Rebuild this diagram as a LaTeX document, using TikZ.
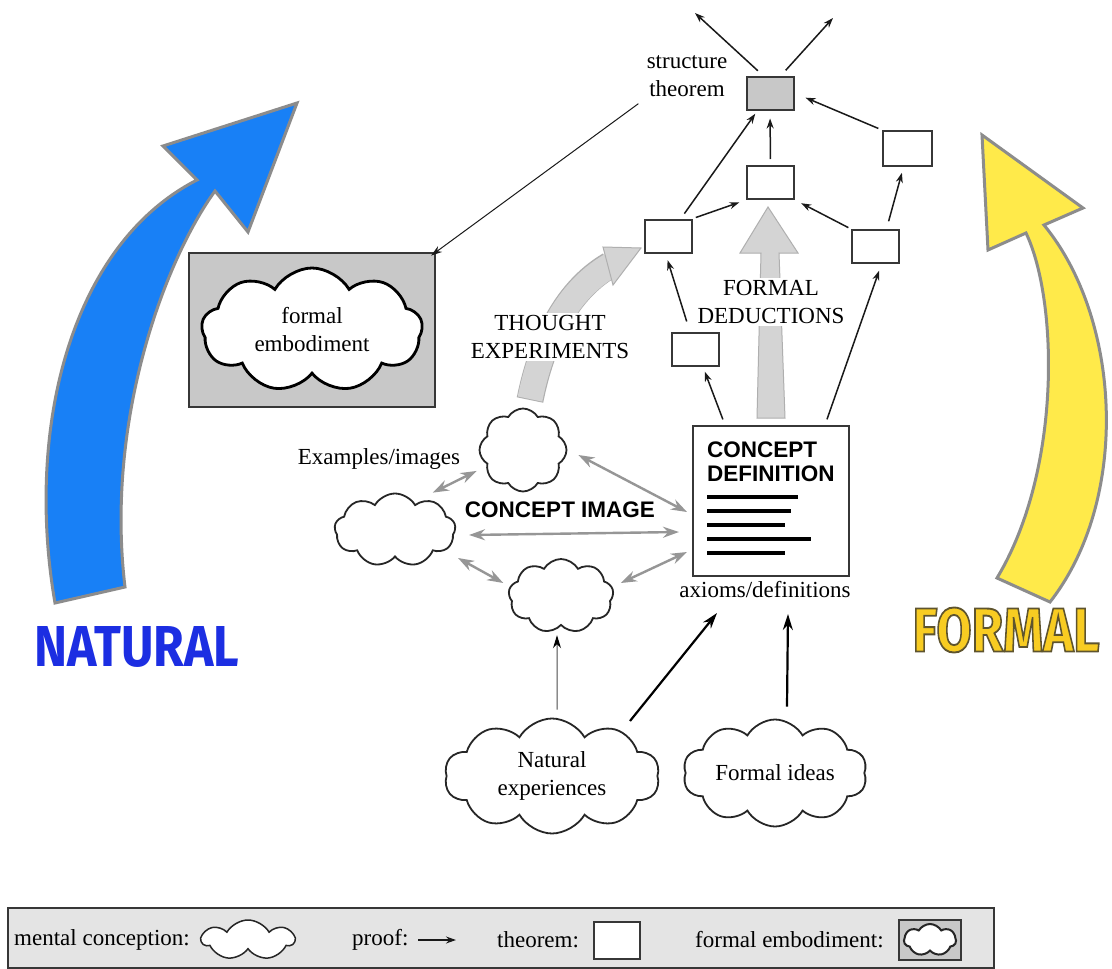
\documentclass[tikz,border=0pt]{standalone}
\usepackage{fontspec}
\setmainfont{Liberation Serif}
\setsansfont{Liberation Sans}
\newfontfamily\labelfont{Fira Sans}
\usetikzlibrary{arrows.meta,shapes.symbols,calc}
\definecolor{natblue}{RGB}{24,128,246}
\definecolor{natlabel}{RGB}{28,46,226}
\definecolor{formyellow}{RGB}{255,234,74}
\definecolor{formlabel}{RGB}{248,204,34}
\definecolor{bigrim}{RGB}{140,140,140}
\definecolor{thinkfill}{RGB}{212,212,212}
\definecolor{thinkrim}{RGB}{175,175,175}
\definecolor{dblgrey}{RGB}{150,150,150}
\definecolor{embfill}{RGB}{200,200,200}
\definecolor{legfill}{RGB}{228,228,228}
\definecolor{boxedge}{RGB}{55,55,55}
\begin{document}
\begin{tikzpicture}[x=1pt,y=-1pt,
  every node/.style={font=\fontsize{23}{28}\selectfont, align=center},
  thm/.style={draw=boxedge, line width=2pt, fill=white, minimum width=47pt, minimum height=33pt, inner sep=0pt},
  mcloud/.style={cloud, cloud puffs=9, cloud puff arc=120, cloud ignores aspect, draw=black!85, line width=1.8pt, fill=white, inner sep=0pt},
  proof/.style={draw=black!90, line width=1.5pt, -{Stealth[length=10pt,width=7pt]}},
  thickproof/.style={draw=black, line width=2.2pt, -{Stealth[length=16pt,width=10pt]}},
  thinproof/.style={draw=black!70, line width=1pt, -{Stealth[length=13pt,width=8pt,color=black]}},
  dbl/.style={draw=dblgrey, line width=2.4pt, {Stealth[length=16pt,width=11pt]}-{Stealth[length=16pt,width=11pt]}},
  bigshape/.style={fill=thinkfill, draw=thinkrim, line width=1pt},
  sflab/.style={font=\sffamily\bfseries\fontsize{22.5}{24}\selectfont}
]
\useasboundingbox (0,0) rectangle (1112,969);
\fill[white] (0,0) rectangle (1112,969);

% ---- big NATURAL arrow
\draw[fill=natblue, draw=bigrim, line width=3pt, line join=miter]
  (55,603) .. controls (25,430) and (70,245) .. (197,180) -- (163,146) -- (297,103) -- (248,232) -- (215,191)
  .. controls (165,260) and (105,420) .. (125,587) -- cycle;
\node[text=natlabel, inner sep=0pt] (natlab) at (137,647) {\resizebox{205pt}{40pt}{\labelfont\bfseries NATURAL}};

% ---- big FORMAL arrow
\draw[fill=formyellow, draw=bigrim, line width=3pt, line join=miter]
  (997,578) -- (1050,602) .. controls (1130,500) and (1122,320) .. (1044,225) -- (1083,208) -- (982,135) -- (988,250) -- (1026,233)
  .. controls (1058,300) and (1062,470) .. (997,578) -- cycle;
\node[text=formlabel, inner sep=0pt] (formlab) at (1006,630) {\resizebox{187pt}{44pt}{\special{pdf:literal direct 2 Tr 0.7 w 0.37 0.33 0.18 RG}\labelfont\bfseries FORMAL\special{pdf:literal direct 0 Tr}}};

% ---- thought experiments arrow
\draw[line width=27pt, draw=thinkrim] (530,400) .. controls (540,350) and (562,293) .. (610,265);
\draw[line width=25pt, draw=thinkfill] (530,399) .. controls (540,350) and (562,293) .. (611,265);
\draw[bigshape] (603,247) -- (641,248) -- (613,285) -- cycle;
% ---- formal deductions arrow
\draw[bigshape] (757,418) -- (785,418) -- (779,253) -- (798,253) -- (768,207) -- (740,253) -- (761,253) -- cycle;

\node[fill=white, inner sep=2pt] (telab) at (550,337) {THOUGHT\\EXPERIMENTS};
\node[fill=white, inner sep=2pt] (fdlab) at (771,302) {FORMAL\\DEDUCTIONS};

% ---- theorems
\node[thm, fill=embfill] (st) at (770,93) {};
\node[thm] (tm) at (770.5,182.5) {};
\node[thm, minimum width=49pt, minimum height=35pt] (trt) at (907.5,148.5) {};
\node[thm] (tl) at (668.5,236) {};
\node[thm] (tr) at (875.5,246.5) {};
\node[thm] (ts) at (695,349.5) {};
\node (stlab) at (687,76) {structure\\theorem};
\coordinate (ul) at (695,13);
\coordinate (ur) at (833,18);

% ---- formal embodiment
\node[draw=boxedge, line width=2pt, fill=embfill, minimum width=246pt, minimum height=154pt] (fe) at (312,330) {};
\node[mcloud, cloud puffs=9, line width=2.8pt, draw=black, minimum width=221pt, minimum height=124pt] (fec) at (312,330) {formal\\embodiment};

% ---- concept definition
\node[draw=boxedge, line width=2pt, fill=white, minimum width=156pt, minimum height=150pt] (cd) at (771,501) {};
\node[sflab, anchor=north west, align=left, inner sep=0pt] (cdt) at (707,442) {CONCEPT\\DEFINITION};
\foreach \y/\xe in {497/798,511/791,525/785,539/811,553/785}
  \draw[line width=3.4pt] (707,\y) -- (\xe,\y);
\node (axlab) at (765,590) {axioms/definitions};

% ---- concept image clouds
\node[mcloud, cloud puffs=8, minimum width=87pt, minimum height=83pt] (ca) at (523,450) {};
\node[mcloud, cloud puffs=9, minimum width=121pt, minimum height=73pt] (cb) at (395,530) {};
\node[mcloud, cloud puffs=9, minimum width=105pt, minimum height=74pt] (cc) at (561,596) {};
\node (exlab) at (379,459) {Examples/images};
\node[sflab] (cilab) at (560,510) {CONCEPT IMAGE};

% ---- bottom clouds
\node[mcloud, cloud puffs=10, minimum width=215pt, minimum height=115pt] (ne) at (552,776) {Natural\\experiences};
\node[mcloud, cloud puffs=10, minimum width=184pt, minimum height=107pt] (fi) at (775,773) {Formal ideas};

% ---- proofs
\draw[proof, shorten <=6pt, shorten >=4pt] (tl) -- (st);
\draw[proof, shorten <=6pt, shorten >=8pt] (tm.north) -- (st.south);
\draw[proof, shorten <=4pt, shorten >=12pt] (trt.north west) -- (st.east);
\draw[proof, shorten <=3pt, shorten >=7pt] (tl.north east) -- (tm.south west);
\draw[proof, shorten <=3pt, shorten >=7pt] (tr.north west) -- (tm.south east);
\draw[proof, shorten <=8pt, shorten >=6pt] ([xshift=11pt]tr.north) -- ([xshift=-4pt]trt.south);
\draw[proof, shorten <=11pt, shorten >=7pt] ([xshift=-5pt]ts.north) -- ([xshift=-3pt]tl.south);
\draw[proof, shorten <=6pt, shorten >=5pt] ([xshift=-46pt]cd.north) -- ([xshift=8pt]ts.south);
\draw[proof, shorten <=6pt, shorten >=7pt] ([xshift=54pt]cd.north) -- ([xshift=6pt]tr.south);
\draw[proof, shorten <=7pt] ([xshift=-7pt]st.north) -- (ul);
\draw[proof, shorten <=7pt] ([xshift=11pt]st.north) -- (ur);
\draw[draw=black!90, line width=1pt, -{Stealth[length=11pt,width=7pt]}, shorten <=6pt, shorten >=-6pt] (stlab.south west) -- (fe.north east);

% ---- concept image links
\draw[dbl] ([shift={(-6,-11)}]cb.north east) -- ([shift={(-15,-9)}]ca.south west);
\draw[dbl] ([shift={(11,5)}]ca.east) -- ([shift={(-5,11)}]cd.west);
\draw[dbl] ([shift={(13,5)}]cb.east) -- ([shift={(-13,31)}]cd.west);
\draw[dbl] ([shift={(2,28)}]cb.east) -- ([shift={(-5,-13)}]cc.west);
\draw[dbl] ([shift={(7,-13)}]cc.east) -- ([shift={(-5,51)}]cd.west);

% ---- from experiences and ideas
\draw[thinproof] ([shift={(5,-8)}]ne.north) -- ([shift={(-4,9)}]cc.south);
\draw[thickproof] ([shift={(78,-55)}]ne.center) -- ([shift={(-54,36)}]cd.south);
\draw[thickproof] ([shift={(12,-12)}]fi.north) -- ([shift={(17,37)}]cd.south);

% ---- legend
\node[draw=boxedge, line width=1.5pt, fill=legfill, minimum width=986pt, minimum height=60pt, inner sep=0pt] (lg) at (501,938) {};
\node[anchor=west, inner sep=0pt] (lgm) at (14,940) {mental conception:};
\node[mcloud, cloud puffs=7, minimum width=92pt, minimum height=40pt, line width=1.5pt] (lgc) at (248,940) {};
\node[anchor=west, inner sep=0pt] (lgp) at (352,940) {proof:};
\coordinate (lgpa) at (418,940);
\coordinate (lgpb) at (456,940);
\draw[proof] (lgpa) -- (lgpb);
\node[anchor=west, inner sep=0pt] (lgt) at (497,940) {theorem:};
\node[thm, minimum width=46pt, minimum height=37pt] (lgbox) at (617,940) {};
\node[anchor=west, inner sep=0pt] (lge) at (695,940) {formal embodiment:};
\node[draw=boxedge, line width=1.5pt, fill=embfill, minimum width=62pt, minimum height=40pt, inner sep=0pt] (lgeb) at (930,940) {};
\node[mcloud, cloud puffs=7, minimum width=52pt, minimum height=32pt, line width=2pt] (lgec) at (930,940) {};
\end{tikzpicture}
\end{document}
